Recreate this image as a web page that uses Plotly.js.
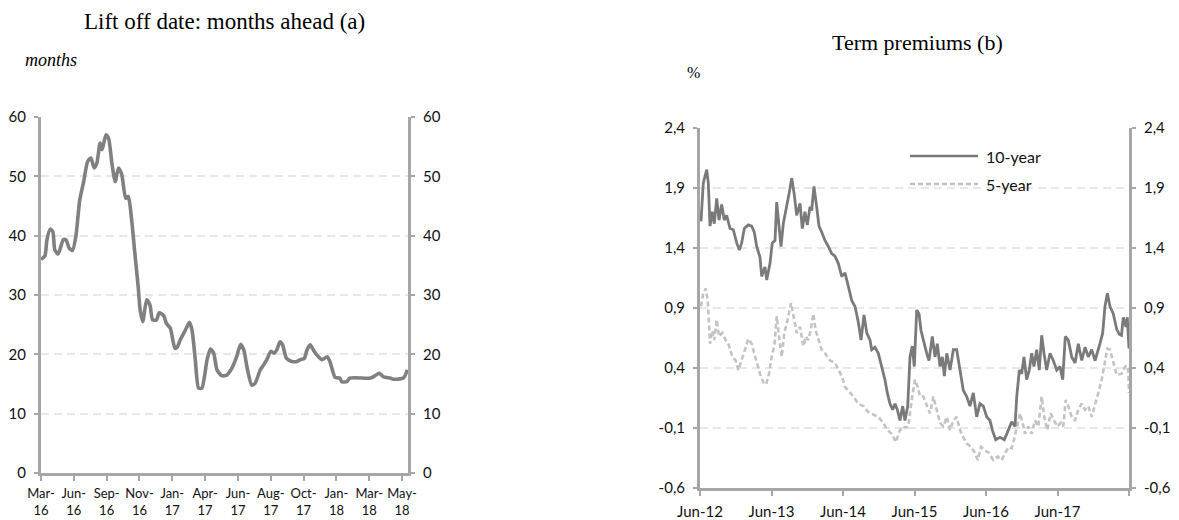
<!DOCTYPE html>
<html>
<head>
<meta charset="utf-8">
<script src="https://cdn.plot.ly/plotly-3.0.1.min.js"></script>
<style>html,body{margin:0;padding:0;background:#fff;}#chart{width:1179px;height:520px;}</style>
</head>
<body>
<div id="chart"></div>
<script>
// ---------- Panel (a): Lift off date, months ahead ----------
const liftObs = [0,6,9,14,18,21,26,34,38,43,48,53,59,65,71,76,81,85,90,93,99,103,108,113,118,123,129,133,138,143,148,151,155,161,166,170,176,180,187,191,197,204,208,212,220,226,230,235,240,245,253,258,263,268,275,283,291,298,304,309,314,321,326,334,339,344,350,355,359,364,368,374,382,390,395,401,405,410,415,420,428,436,440,448,455,458,466,470,502,509,515,522,532,537,552,558];
const liftMonths = [36.0,36.6,39.3,41.1,40.7,37.6,36.9,39.3,39.3,37.9,37.5,39.8,46.0,49.1,52.5,53.1,51.4,52.2,55.6,54.5,57.0,56.4,52.2,49.1,51.4,50.3,46.3,46.6,42.7,37.0,31.4,27.5,25.5,29.2,28.3,25.8,25.8,27.0,26.5,25.2,24.4,21.0,21.3,22.4,24.1,25.4,24.1,19.1,14.3,14.3,19.1,20.9,20.2,17.4,16.4,16.5,17.7,19.6,21.7,20.7,17.7,14.8,15.1,17.4,18.2,19.1,20.5,20.2,20.7,22.1,21.6,19.3,18.8,18.8,19.1,19.3,20.7,21.6,20.7,19.9,19.1,19.6,18.8,16.1,16.0,15.4,15.4,16.0,16.0,16.4,16.8,16.2,16.0,15.8,16.0,17.4];
const liftTickObs = [0,50,100,150,200,250,300,350,400,450,500,550];
const liftTickText = ["Mar-<br>16","Jun-<br>16","Sep-<br>16","Nov-<br>16","Jan-<br>17","Apr-<br>17","Jun-<br>17","Aug-<br>17","Oct-<br>17","Jan-<br>18","Mar-<br>18","May-<br>18"];
const liftYTicks = [0,10,20,30,40,50,60];

// ---------- Panel (b): Term premiums, % ----------
const tp10Dates = [2012.431,2012.463,2012.511,2012.533,2012.557,2012.589,2012.617,2012.651,2012.683,2012.720,2012.757,2012.790,2012.837,2012.883,2012.930,2012.967,2013.000,2013.037,2013.093,2013.140,2013.176,2013.210,2013.256,2013.280,2013.326,2013.350,2013.396,2013.428,2013.466,2013.490,2013.522,2013.550,2013.582,2013.630,2013.662,2013.700,2013.736,2013.769,2013.816,2013.848,2013.885,2013.918,2013.955,2013.979,2014.011,2014.049,2014.081,2014.119,2014.165,2014.211,2014.259,2014.305,2014.351,2014.399,2014.445,2014.491,2014.539,2014.585,2014.631,2014.669,2014.711,2014.749,2014.795,2014.818,2014.865,2014.911,2014.958,2015.004,2015.037,2015.074,2015.112,2015.144,2015.177,2015.214,2015.252,2015.284,2015.322,2015.354,2015.386,2015.414,2015.448,2015.480,2015.508,2015.540,2015.588,2015.620,2015.666,2015.704,2015.736,2015.774,2015.806,2015.834,2015.868,2015.914,2015.960,2016.007,2016.053,2016.100,2016.147,2016.193,2016.239,2016.287,2016.333,2016.379,2016.427,2016.473,2016.506,2016.553,2016.613,2016.673,2016.729,2016.777,2016.823,2016.847,2016.883,2016.916,2016.948,2016.986,2017.022,2017.056,2017.088,2017.126,2017.162,2017.196,2017.228,2017.266,2017.312,2017.358,2017.406,2017.452,2017.490,2017.526,2017.568,2017.616,2017.662,2017.708,2017.756,2017.802,2017.848,2017.895,2017.942,2017.974,2018.011,2018.049,2018.081,2018.114,2018.151,2018.197,2018.245,2018.281,2018.312,2018.337,2018.375,2018.393,2018.417];
const tp10Values = [1.62,1.94,2.05,1.94,1.58,1.70,1.60,1.81,1.63,1.76,1.63,1.67,1.56,1.55,1.44,1.38,1.44,1.56,1.59,1.58,1.53,1.41,1.32,1.16,1.24,1.13,1.27,1.44,1.46,1.78,1.58,1.41,1.60,1.74,1.85,1.98,1.84,1.67,1.77,1.56,1.70,1.59,1.74,1.71,1.91,1.74,1.58,1.53,1.46,1.41,1.35,1.33,1.27,1.16,1.19,1.08,0.96,0.91,0.78,0.63,0.84,0.69,0.63,0.55,0.57,0.52,0.41,0.30,0.19,0.10,0.05,0.10,0.05,-0.04,0.08,-0.04,0.08,0.49,0.58,0.41,0.88,0.85,0.71,0.63,0.52,0.46,0.66,0.49,0.60,0.41,0.49,0.33,0.52,0.38,0.55,0.55,0.38,0.21,0.16,0.08,0.19,-0.01,0.10,0.08,-0.01,-0.04,-0.12,-0.20,-0.18,-0.20,-0.12,-0.05,-0.09,0.16,0.38,0.35,0.49,0.30,0.38,0.52,0.41,0.55,0.38,0.67,0.52,0.38,0.52,0.46,0.38,0.41,0.30,0.66,0.63,0.49,0.44,0.60,0.46,0.57,0.49,0.55,0.46,0.52,0.60,0.69,0.91,1.02,0.91,0.85,0.72,0.68,0.67,0.82,0.74,0.82,0.56];
const tp5Dates = [2012.431,2012.463,2012.497,2012.525,2012.557,2012.589,2012.617,2012.651,2012.683,2012.729,2012.776,2012.813,2012.869,2012.916,2012.953,2013.000,2013.046,2013.093,2013.140,2013.176,2013.210,2013.256,2013.302,2013.340,2013.382,2013.420,2013.456,2013.490,2013.522,2013.560,2013.596,2013.644,2013.690,2013.722,2013.769,2013.816,2013.862,2013.900,2013.932,2013.965,2014.002,2014.035,2014.072,2014.119,2014.165,2014.235,2014.305,2014.351,2014.399,2014.445,2014.491,2014.561,2014.631,2014.701,2014.771,2014.841,2014.911,2014.981,2015.037,2015.098,2015.158,2015.204,2015.252,2015.298,2015.330,2015.378,2015.424,2015.462,2015.494,2015.540,2015.588,2015.634,2015.680,2015.727,2015.774,2015.820,2015.867,2015.914,2015.960,2016.007,2016.053,2016.100,2016.147,2016.207,2016.263,2016.301,2016.347,2016.403,2016.459,2016.519,2016.581,2016.637,2016.683,2016.739,2016.776,2016.809,2016.846,2016.893,2016.930,2016.962,2017.009,2017.056,2017.102,2017.148,2017.196,2017.232,2017.274,2017.322,2017.368,2017.414,2017.462,2017.498,2017.532,2017.568,2017.616,2017.662,2017.708,2017.755,2017.802,2017.848,2017.895,2017.941,2017.988,2018.035,2018.081,2018.114,2018.151,2018.197,2018.244,2018.314,2018.375,2018.407,2018.417];
const tp5Values = [0.91,1.02,1.06,0.96,0.60,0.71,0.63,0.80,0.66,0.69,0.63,0.60,0.49,0.46,0.38,0.46,0.55,0.64,0.60,0.52,0.44,0.35,0.28,0.26,0.35,0.49,0.58,0.83,0.66,0.49,0.69,0.80,0.94,0.85,0.69,0.74,0.58,0.66,0.63,0.71,0.85,0.71,0.63,0.55,0.52,0.46,0.44,0.38,0.33,0.24,0.21,0.16,0.10,0.08,0.03,0.01,-0.01,-0.06,-0.12,-0.15,-0.22,-0.13,-0.09,-0.10,-0.09,0.13,0.30,0.24,0.16,0.16,0.08,0.02,0.16,0.05,-0.06,-0.09,-0.01,-0.12,-0.04,-0.01,-0.12,-0.18,-0.23,-0.26,-0.31,-0.37,-0.26,-0.29,-0.31,-0.37,-0.34,-0.37,-0.31,-0.26,-0.27,-0.20,-0.09,0.02,-0.06,-0.15,-0.09,-0.15,-0.04,-0.09,0.16,-0.01,-0.12,0.02,-0.04,-0.09,-0.06,-0.09,0.13,0.08,-0.01,-0.04,0.05,0.10,0.05,0.08,-0.01,0.08,0.19,0.30,0.44,0.56,0.55,0.44,0.34,0.35,0.42,0.38,0.19];
const tpTickDates = [2012.417,2013.417,2014.417,2015.417,2016.417,2017.417,2018.417];
const tpTickText = ["Jun-12","Jun-13","Jun-14","Jun-15","Jun-16","Jun-17",""];
const tpYTicks = [-0.6,-0.1,0.4,0.9,1.4,1.9,2.4];
const tpYTickText = ["-0,6","-0,1","0,4","0,9","1,4","1,9","2,4"];
const seriesNames = ["10-year","5-year"];

// ---------- layout helpers (pixels -> paper) ----------
const W = 1179, H = 520;
const px = v => v / W;
const py = v => 1 - v / H;

const AX = '#a6a6a6';
const GRID = '#e8e8e8';
const TICKFONT = {family: 'Lato, "Open Sans", sans-serif', size: 15, color: '#111'};
const SERIF = 'Liberation Serif, "Times New Roman", serif';

function yAx(extra) {
  return Object.assign({
    showline: true, linecolor: AX, linewidth: 3,
    ticks: 'outside', ticklen: 4, tickwidth: 2, tickcolor: AX,
    zeroline: false, tickfont: TICKFONT, fixedrange: true,
    ticklabelstandoff: 5
  }, extra);
}

const traces = [
  {x: liftObs, y: liftMonths, xaxis: 'x', yaxis: 'y', type: 'scatter', mode: 'lines',
   line: {color: '#808080', width: 3.6, shape: 'spline', smoothing: 0.6}, hoverinfo: 'skip'},
  // same series bound to the mirrored right-hand axis (invisible, only so the axis is drawn)
  {x: liftObs, y: liftMonths, xaxis: 'x', yaxis: 'y3', type: 'scatter', mode: 'lines',
   line: {color: 'rgba(0,0,0,0)', width: 0}, opacity: 0, hoverinfo: 'skip'},
  {x: tp5Dates, y: tp5Values, xaxis: 'x2', yaxis: 'y2', type: 'scatter', mode: 'lines', name: seriesNames[1],
   line: {color: '#c3c3c3', width: 2.6, dash: '5px,3px'}, hoverinfo: 'skip'},
  {x: tp10Dates, y: tp10Values, xaxis: 'x2', yaxis: 'y2', type: 'scatter', mode: 'lines', name: seriesNames[0],
   line: {color: '#7a7a7a', width: 2.8}, hoverinfo: 'skip'},
  {x: tp10Dates, y: tp10Values, xaxis: 'x2', yaxis: 'y4', type: 'scatter', mode: 'lines',
   line: {color: 'rgba(0,0,0,0)', width: 0}, opacity: 0, hoverinfo: 'skip'}
];

const layout = {
  width: W, height: H,
  margin: {l: 0, r: 0, t: 0, b: 0},
  paper_bgcolor: '#fff', plot_bgcolor: '#fff',
  showlegend: false,
  xaxis: {domain: [px(41), px(408)], range: [0, 559], anchor: 'y',
    tickmode: 'array', tickvals: liftTickObs, ticktext: liftTickText,
    showline: true, linecolor: AX, linewidth: 3, ticks: 'outside', ticklen: 5, tickwidth: 2, tickcolor: AX,
    showgrid: false, zeroline: false, tickfont: Object.assign({}, TICKFONT, {size: 13}), fixedrange: true, tickangle: 0, ticklabelstandoff: 1},
  yaxis: yAx({domain: [py(473), py(117)], range: [0, 60], anchor: 'x',
    tickmode: 'array', tickvals: liftYTicks, showgrid: true, gridcolor: GRID, gridwidth: 2, griddash: '8px,5px'}),
  yaxis3: yAx({range: [0, 60], overlaying: 'y', side: 'right', anchor: 'x',
    tickmode: 'array', tickvals: liftYTicks, showgrid: false}),
  xaxis2: {domain: [px(700), px(1129)], range: [2012.417, 2018.417], anchor: 'y2',
    tickmode: 'array', tickvals: tpTickDates, ticktext: tpTickText,
    showline: true, linecolor: AX, linewidth: 3, ticks: 'outside', ticklen: 5, tickwidth: 2, tickcolor: AX,
    showgrid: false, zeroline: false, tickfont: TICKFONT, fixedrange: true, tickangle: 0, ticklabelstandoff: 3},
  yaxis2: yAx({domain: [py(487.7), py(127.7)], range: [-0.6, 2.4], anchor: 'x2',
    tickmode: 'array', tickvals: tpYTicks, ticktext: tpYTickText,
    showgrid: true, gridcolor: GRID, gridwidth: 2, griddash: '8px,5px'}),
  yaxis4: yAx({range: [-0.6, 2.4], overlaying: 'y2', side: 'right', anchor: 'x2',
    tickmode: 'array', tickvals: tpYTicks, ticktext: tpYTickText, showgrid: false}),
  shapes: [
    {type: 'rect', xref: 'paper', yref: 'paper', x0: px(905), x1: px(1048), y0: py(196), y1: py(144),
     fillcolor: '#fff', line: {width: 0}, layer: 'between'},
    {type: 'line', xref: 'paper', yref: 'paper', x0: px(910), x1: px(978), y0: py(156), y1: py(156),
     line: {color: '#7a7a7a', width: 2.6}},
    {type: 'line', xref: 'paper', yref: 'paper', x0: px(910), x1: px(978), y0: py(184), y1: py(184),
     line: {color: '#c3c3c3', width: 2.6, dash: '5px,3px'}}
  ],
  annotations: [
    {text: 'Lift off date: months ahead (a)', xref: 'paper', yref: 'paper', x: px(224), y: py(22),
     xanchor: 'center', yanchor: 'middle', showarrow: false, font: {family: SERIF, size: 23, color: '#000'}},
    {text: '<i>months</i>', xref: 'paper', yref: 'paper', x: px(23), y: py(60),
     xanchor: 'left', yanchor: 'middle', showarrow: false, font: {family: SERIF, size: 18, color: '#000'}},
    {text: 'Term premiums (b)', xref: 'paper', yref: 'paper', x: px(917), y: py(42),
     xanchor: 'center', yanchor: 'middle', showarrow: false, font: {family: SERIF, size: 22, color: '#000'}},
    {text: '%', xref: 'paper', yref: 'paper', x: px(693), y: py(73),
     xanchor: 'center', yanchor: 'middle', showarrow: false, font: {family: SERIF, size: 16, color: '#000'}},
    {text: seriesNames[0], xref: 'paper', yref: 'paper', x: px(984), y: py(156),
     xanchor: 'left', yanchor: 'middle', showarrow: false, font: {family: 'Lato, sans-serif', size: 16, color: '#111'}},
    {text: seriesNames[1], xref: 'paper', yref: 'paper', x: px(984), y: py(184),
     xanchor: 'left', yanchor: 'middle', showarrow: false, font: {family: 'Lato, sans-serif', size: 16, color: '#111'}}
  ]
};

Plotly.newPlot('chart', traces, layout, {staticPlot: true, displayModeBar: false});
</script>
</body>
</html>
